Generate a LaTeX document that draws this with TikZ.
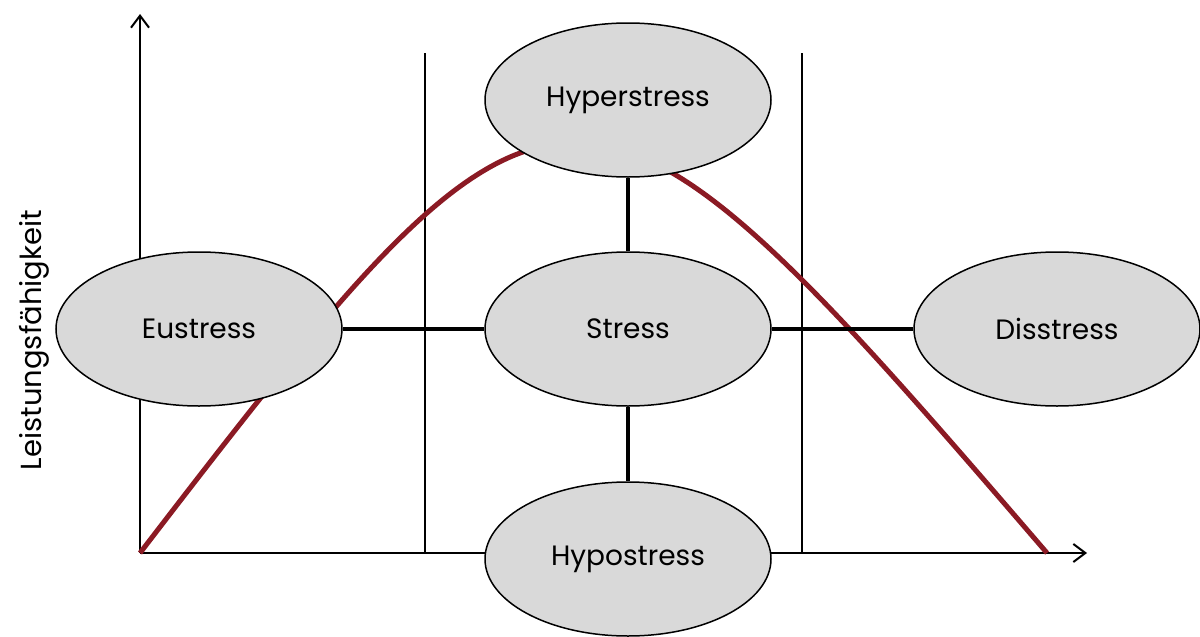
\documentclass[tikz,border=0pt]{standalone}
\usepackage{fontspec}
\setmainfont{Poppins}
\usetikzlibrary{shapes.geometric,arrows.meta}
\definecolor{curvered}{HTML}{8B1A24}
\definecolor{ellfill}{HTML}{D9D9D9}
\begin{document}
\begin{tikzpicture}[x=0.5pt,y=-0.5pt,
  ell/.style={ellipse,draw=black,line width=0.75pt,fill=ellfill,minimum width=143pt,minimum height=77pt,inner sep=0pt,font=\fontsize{14}{16}\selectfont},
  axis/.style={line width=1.2pt,-{Straight Barb[length=6pt,width=9pt,line width=1pt]}},
  thin/.style={line width=0.6pt},
  conn/.style={line width=2pt}]
\useasboundingbox (0,0) rectangle (1200,637);
\coordinate (o) at (140,553);
\coordinate (ytip) at (140,14);
\coordinate (xtip) at (1087,553);
\coordinate (v1a) at (425,53);
\coordinate (v1b) at (425,553);
\coordinate (v2a) at (802,53);
\coordinate (v2b) at (802,553);
\coordinate (cs) at (140,553);
\coordinate (ce) at (1047,553);
\draw[thin] (v1a) -- (v1b);
\draw[thin] (v2a) -- (v2b);
\draw[axis] (o) -- (ytip);
\draw[axis] (o) -- (xtip);
\draw[curvered,line width=2.5pt] (cs) .. controls (560,6) and (577,6) .. (ce);
\node[ell] (stress) at (628,329) {Stress};
\node[ell] (hyper) at (628,100) {Hyperstress};
\node[ell] (hypo) at (628,559) {Hypostress};
\node[ell] (eu) at (199,329) {Eustress};
\node[ell] (dis) at (1057,329) {Disstress};
\draw[conn] (eu) -- (stress);
\draw[conn] (stress) -- (dis);
\draw[conn] (stress) -- (hyper);
\draw[conn] (stress) -- (hypo);
\node[rotate=90,font=\fontsize{14.5}{16}\selectfont] (ylab) at (34,340) {Leistungsfähigkeit};
\end{tikzpicture}
\end{document}
